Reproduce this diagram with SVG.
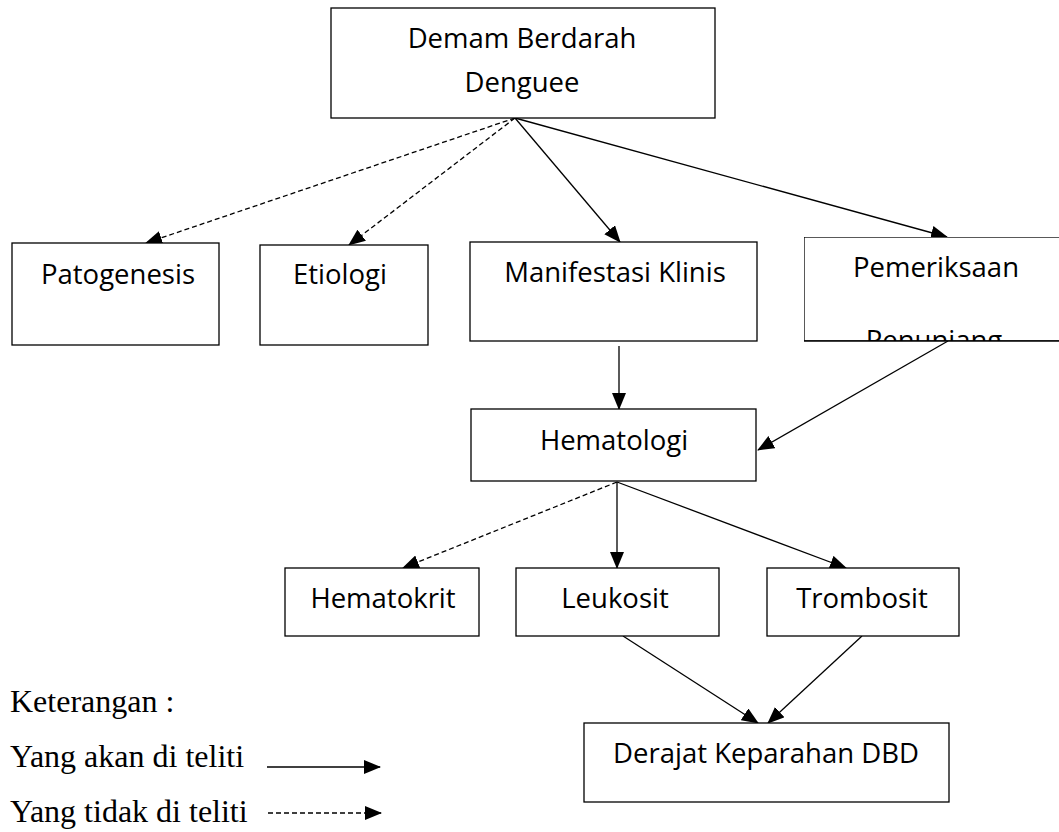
<svg xmlns="http://www.w3.org/2000/svg" width="1059" height="832" viewBox="0 0 1059 832">
<defs>
<marker id="ah" markerUnits="userSpaceOnUse" markerWidth="17" markerHeight="14" refX="16" refY="7" orient="auto">
<path d="M0,0 L17,7 L0,14 Z" fill="#000"/>
</marker>
<clipPath id="clipPem"><rect x="804" y="237" width="255" height="104"/></clipPath>
<style>
rect.box{fill:#fff;stroke:#000;stroke-width:1.3}
text.n{font-family:"Open Sans","Liberation Sans",sans-serif;font-size:27.5px;fill:#000}
text.l{font-family:"Liberation Serif",serif;font-size:32px;fill:#000}
.c{stroke:#000;stroke-width:1.3;fill:none;marker-end:url(#ah)}
.d{stroke-dasharray:5,3}
</style>
</defs>
<rect width="1059" height="832" fill="#fff"/>
<g id="connectors">
<line class="c d" x1="515" y1="118" x2="146" y2="243"/>
<line class="c d" x1="515" y1="118" x2="349" y2="245"/>
<line class="c" x1="515" y1="118" x2="620" y2="242"/>
<line class="c" x1="515" y1="118" x2="947" y2="237"/>
<line class="c" x1="619" y1="346" x2="619" y2="409"/>
<line class="c" x1="948" y1="341" x2="758" y2="450"/>
<line class="c d" x1="617" y1="482" x2="403" y2="568"/>
<line class="c" x1="617" y1="482" x2="617" y2="568"/>
<line class="c" x1="617" y1="482" x2="846" y2="568"/>
<line class="c" x1="623" y1="636" x2="758" y2="723"/>
<line class="c" x1="862" y1="636" x2="768" y2="723"/>
<line class="c" x1="267" y1="767" x2="380" y2="767"/>
<line class="c d" x1="268" y1="813" x2="381" y2="813"/>
</g>
<g id="node-dbd">
<rect class="box" x="331" y="8" width="384" height="110"/>
<text class="n" x="522" y="48" text-anchor="middle">Demam Berdarah</text>
<text class="n" x="522" y="92" text-anchor="middle">Denguee</text>
</g>
<g id="node-patogenesis">
<rect class="box" x="12" y="243" width="207" height="102"/>
<text class="n" x="118" y="284" text-anchor="middle">Patogenesis</text>
</g>
<g id="node-etiologi">
<rect class="box" x="260" y="245" width="168" height="100"/>
<text class="n" x="340" y="284" text-anchor="middle">Etiologi</text>
</g>
<g id="node-manifestasi">
<rect class="box" x="470" y="242" width="287" height="99"/>
<text class="n" x="615" y="282" text-anchor="middle">Manifestasi Klinis</text>
</g>
<g id="node-pemeriksaan">
<g clip-path="url(#clipPem)">
<rect class="box" x="804" y="237" width="270" height="104"/>
<text class="n" x="936" y="277" text-anchor="middle">Pemeriksaan</text>
<text class="n" x="934" y="350" text-anchor="middle">Penunjang</text>
</g>
<line x1="804" y1="341" x2="1059" y2="341" stroke="#000" stroke-width="1.3"/>
</g>
<g id="node-hematologi">
<rect class="box" x="471" y="409" width="285" height="72"/>
<text class="n" x="614" y="450" text-anchor="middle">Hematologi</text>
</g>
<g id="node-hematokrit">
<rect class="box" x="285" y="568" width="194" height="68"/>
<text class="n" x="383" y="608" text-anchor="middle">Hematokrit</text>
</g>
<g id="node-leukosit">
<rect class="box" x="516" y="568" width="203" height="68"/>
<text class="n" x="615" y="608" text-anchor="middle">Leukosit</text>
</g>
<g id="node-trombosit">
<rect class="box" x="767" y="568" width="192" height="68"/>
<text class="n" x="862" y="608" text-anchor="middle">Trombosit</text>
</g>
<g id="node-derajat">
<rect class="box" x="584" y="723" width="365" height="79"/>
<text class="n" x="766" y="763" text-anchor="middle">Derajat Keparahan DBD</text>
</g>
<g id="legend">
<text class="l" x="10" y="712">Keterangan :</text>
<text class="l" x="10" y="767">Yang akan di teliti</text>
<text class="l" x="10" y="822">Yang tidak di teliti</text>
</g>
</svg>
